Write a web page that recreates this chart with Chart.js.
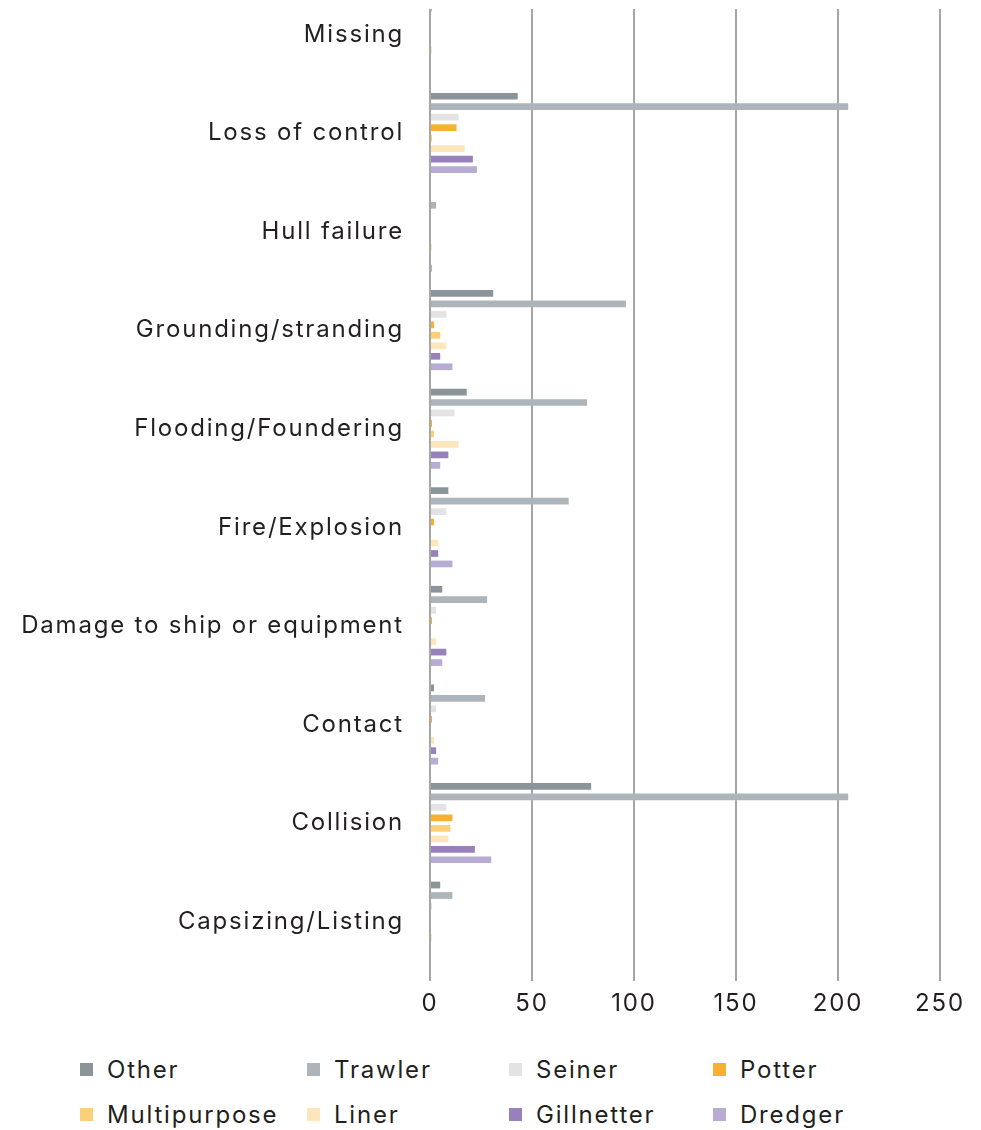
<!DOCTYPE html>
<html>
<head>
<meta charset="utf-8">
<script src="https://cdn.jsdelivr.net/npm/chart.js@4.4.1/dist/chart.umd.min.js"></script>
<style>
  html, body { margin: 0; padding: 0; background: #fff; }
  body { width: 981px; height: 1130px; position: relative; overflow: hidden; font-family: Inter, "Noto Sans", sans-serif; }
  #clip { position: absolute; left: 0; top: 9px; width: 981px; height: 1030px; overflow: hidden; }
  #wrap { position: absolute; left: 0; top: -24px; width: 981px; height: 1046px; }
  #legend { position: absolute; left: 80px; top: 1047px; display: grid;
            grid-template-columns: 227px 202px 204px 220px; grid-auto-rows: 45px; }
  .item { display: flex; align-items: center; font-size: 24px; letter-spacing: 1.8px; color: #231f20; white-space: nowrap; }
  .sw { width: 13px; height: 13px; margin-right: 14px; flex: none; }
</style>
</head>
<body>
<div id="clip"><div id="wrap"><canvas id="chart"></canvas></div></div>
<div id="legend"></div>
<script>
// Incident type per row, vessel type per series
const categories = ['Missing', 'Loss of control', 'Hull failure', 'Grounding/stranding',
  'Flooding/Foundering', 'Fire/Explosion', 'Damage to ship or equipment', 'Contact',
  'Collision', 'Capsizing/Listing'];

const seriesNames = ['Other', 'Trawler', 'Seiner', 'Potter', 'Multipurpose', 'Liner', 'Gillnetter', 'Dredger'];

const other        = [0, 43, 0, 31, 18,  9,  6,  2,  79, 5];
const trawler      = [1, 205, 3, 96, 77, 68, 28, 27, 205, 11];
const seiner       = [0, 14, 0,  8, 12,  8,  3,  3,   8, 1];
const potter       = [0, 13, 0,  2,  1,  2,  1,  1,  11, 0];
const multipurpose = [0,  1, 0,  5,  2,  0,  0,  0,  10, 0];
const liner        = [1, 17, 1,  8, 14,  4,  3,  2,   9, 1];
const gillnetter   = [0, 21, 0,  5,  9,  4,  8,  3,  22, 0];
const dredger      = [0, 23, 1, 11,  5, 11,  6,  4,  30, 0];

const xTicks = [0, 50, 100, 150, 200, 250];

const seriesValues = [other, trawler, seiner, potter, multipurpose, liner, gillnetter, dredger];
const seriesColors = ['#8a9499', '#adb5bb', '#e3e3e3', '#f7b030', '#fccf7a', '#fde6bb', '#9881bb', '#b9acd4'];

const FONT = 'Inter, "Noto Sans", sans-serif';
const TRACKING = '1.8px';

const datasets = seriesNames.map((name, i) => ({
  label: name,
  data: seriesValues[i],
  backgroundColor: seriesColors[i],
  borderWidth: 0,
  barPercentage: 0.64,
  categoryPercentage: 0.85
}));

// Looser letter spacing for all canvas text (measured and drawn)
const tracking = {
  id: 'tracking',
  beforeInit(chart) { chart.ctx.letterSpacing = TRACKING; },
  beforeLayout(chart) { chart.ctx.letterSpacing = TRACKING; },
  beforeDraw(chart) { chart.ctx.letterSpacing = TRACKING; }
};

// Legend laid out as a four-column grid from the chart's datasets
const htmlLegend = {
  id: 'htmlLegend',
  afterUpdate(chart) {
    const box = document.getElementById('legend');
    box.innerHTML = '';
    chart.data.datasets.forEach(ds => {
      const item = document.createElement('div');
      item.className = 'item';
      const sw = document.createElement('span');
      sw.className = 'sw';
      sw.style.background = ds.backgroundColor;
      item.appendChild(sw);
      item.appendChild(document.createTextNode(ds.label));
      box.appendChild(item);
    });
  }
};

new Chart(document.getElementById('chart'), {
  type: 'bar',
  data: { labels: categories, datasets },
  plugins: [tracking, htmlLegend],
  options: {
    indexAxis: 'y',
    responsive: true,
    maintainAspectRatio: false,
    animation: false,
    layout: { padding: { top: 0, right: 41, bottom: 0, left: 0 } },
    plugins: {
      legend: { display: false },
      tooltip: { enabled: false }
    },
    scales: {
      x: {
        type: 'linear',
        min: 0,
        max: 250,
        afterFit(scale) { scale.height = 60; },
        afterBuildTicks(scale) { scale.ticks = xTicks.map(v => ({ value: v })); },
        grid: { color: '#a6a6a6', lineWidth: 2, drawTicks: true, tickLength: 10 },
        border: { display: false },
        ticks: { color: '#231f20', font: { family: FONT, size: 24 }, padding: 8 }
      },
      y: {
        type: 'category',
        afterFit(scale) {
          scale.width = 430;
          scale.paddingTop = 0;
          scale.paddingBottom = 0;
        },
        grid: { display: false, drawTicks: false },
        border: { display: false },
        ticks: { color: '#231f20', font: { family: FONT, size: 24 }, padding: 26 }
      }
    }
  }
});
</script>
</body>
</html>
